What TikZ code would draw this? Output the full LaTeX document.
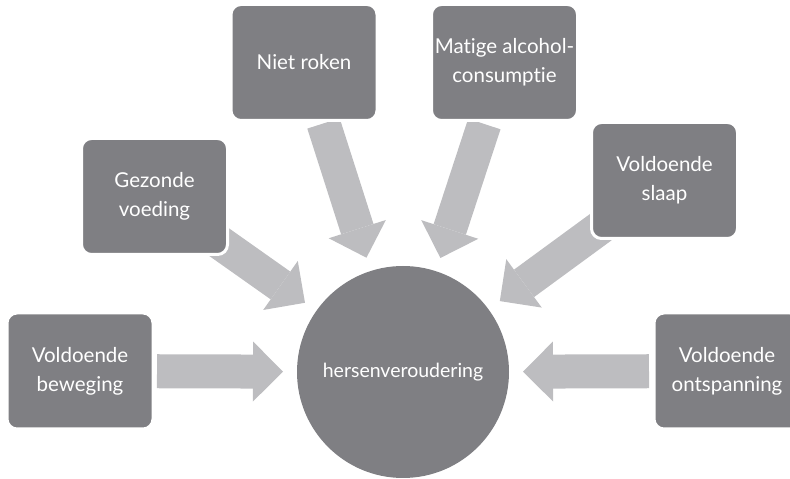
\documentclass[tikz,border=0pt]{standalone}
\usepackage{fontspec}
\setmainfont{Lato}[Ligatures=NoCommon]
\usetikzlibrary{arrows.meta,calc,backgrounds}
\definecolor{boxgrey}{RGB}{127,127,131}
\definecolor{arrowgrey}{RGB}{189,189,192}
\begin{document}
\begin{tikzpicture}[x=1pt,y=1pt,
      habit/.style={rectangle,
                    rounded corners=10pt,
                    fill=boxgrey,
                    draw=white,
                    line width=3pt,
                    inner xsep=2pt,
                    minimum width=146pt,
                    minimum height=116pt,
                    align=center,
                    text=white,
                    font=\fontsize{20.5}{29}\selectfont},
      core/.style={circle,
                    fill=boxgrey,
                    minimum size=212pt,
                    text=white,
                    font=\fontsize{19.5}{28}\selectfont},
      push/.style={draw=arrowgrey,
                    line width=34pt,
                    -{Triangle[width=60pt,length=30pt,line width=0pt]}}
    ]

    \path[use as bounding box,clip] (0,0) rectangle (790,479);

    \draw (403,107)
          node[core]
          (ageing)
          {hersenveroudering};

    \draw (80,108)
          node[habit]
          (beweging)
          {Voldoende\\beweging};
    \draw (154.5,282.5)
          node[habit]
          (voeding)
          {Gezonde\\voeding};
    \draw (304,416.5)
          node[habit]
          (roken)
          {Niet roken};
    \draw (504.5,416.5)
          node[habit]
          (alcohol)
          {Matige alcohol-\\consumptie};
    \draw (664.5,298.5)
          node[habit]
          (slaap)
          {Voldoende\\slaap};
    \draw (727,108)
          node[habit]
          (ontspanning)
          {Voldoende\\ontspanning};

    \begin{scope}[on background layer]
      \draw [push] ($(ageing.center)!246pt!(beweging.center)$) to
                   ($(ageing.center)!120pt!(beweging.center)$);
      \draw [push] ($(ageing.center)!246pt!(voeding.center)$) to
                   ($(ageing.center)!120pt!(voeding.center)$);
      \draw [push] ($(ageing.center)!261pt!(roken.center)$) to
                   ($(ageing.center)!120pt!(roken.center)$);
      \draw [push] ($(ageing.center)!261pt!(alcohol.center)$) to
                   ($(ageing.center)!120pt!(alcohol.center)$);
      \draw [push] ($(ageing.center)!246pt!(slaap.center)$) to
                   ($(ageing.center)!120pt!(slaap.center)$);
      \draw [push] ($(ageing.center)!246pt!(ontspanning.center)$) to
                   ($(ageing.center)!120pt!(ontspanning.center)$);
    \end{scope}

\end{tikzpicture}
\end{document}
